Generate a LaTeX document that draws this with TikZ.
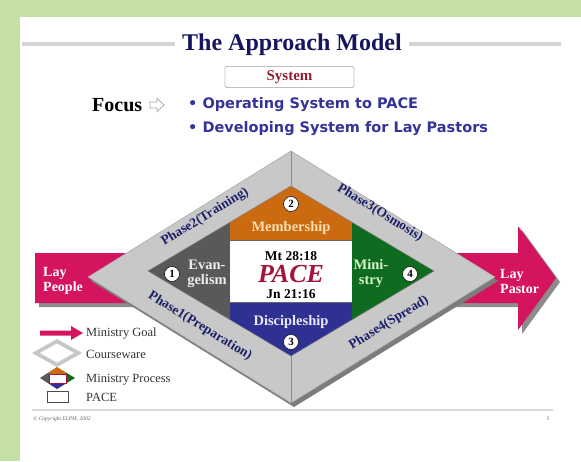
\documentclass[tikz,border=0pt]{standalone}
\usepackage{fontspec}
\setmainfont{Liberation Serif}
\newfontfamily\dejavu{DejaVu Sans}
\definecolor{frame}{HTML}{C5E0A5}
\definecolor{navy}{HTML}{16165E}
\definecolor{phasenavy}{HTML}{1C2068}
\definecolor{sysred}{HTML}{8E1F2E}
\definecolor{bulletblue}{HTML}{33339A}
\definecolor{goalred}{HTML}{D4145E}
\definecolor{band}{HTML}{C8C8C8}
\definecolor{bandshadow}{HTML}{7C7C7C}
\definecolor{evgray}{HTML}{595959}
\definecolor{memorange}{HTML}{CC6A12}
\definecolor{disblue}{HTML}{2E3192}
\definecolor{mingreen}{HTML}{0E6B1F}
\definecolor{pacered}{HTML}{A3143A}
\tikzset{
  ruleline/.style={line width=4pt, color=black!17},
  phase/.style={font=\bfseries\fontsize{13.5}{15}\selectfont, text=phasenavy, inner sep=0pt},
  numc/.style={circle, draw=black, line width=0.5pt, fill=white, minimum size=15pt, inner sep=0pt, font=\bfseries\fontsize{11}{11}\selectfont},
  lbl/.style={font=\fontsize{12.5}{14}\selectfont, text=black!80, anchor=west, inner sep=0pt},
  bul/.style={font=\dejavu\bfseries\fontsize{14.5}{16}\selectfont, text=bulletblue, anchor=west, inner sep=0pt},
  inner/.style={font=\bfseries\fontsize{14.5}{15}\selectfont, inner sep=0pt, align=center},
}
\begin{document}
\begin{tikzpicture}[x=1pt,y=-1pt]
% background and frame
\fill[white] (0,0) rectangle (581,461);
\fill[frame] (0,0) rectangle (581,17);
\fill[frame] (0,0) rectangle (20,461);
\useasboundingbox (0,0) rectangle (581,461);

% title
\node[font=\bfseries\fontsize{24}{28}\selectfont, text=navy, inner sep=0pt] (title) at (292,45) {The Approach Model};
\coordinate (tlA) at (22,44);
\coordinate (tlB) at (561,44);
\draw[ruleline] (tlA) -- ([xshift=-7pt]title.west |- tlA);
\draw[ruleline] ([xshift=7pt]title.east |- tlB) -- (tlB);

% system box
\node[draw=black!25, line width=0.8pt, rounded corners=1.5pt, fill=white, minimum width=129pt, minimum height=21pt, inner sep=0pt,
      font=\bfseries\fontsize{15}{16}\selectfont, text=sysred] (system) at (289.5,77) {System};

% focus
\node[font=\bfseries\fontsize{20}{22}\selectfont, anchor=west, inner sep=0pt] (focus) at (92,105) {Focus};
\draw[black!35, line width=0.8pt] (150,102) -- (157,102) -- (157,98.5) -- (164,105) -- (157,111.5) -- (157,108) -- (150,108) -- cycle;
\node[bul] (b1) at (188,105) {• Operating System to PACE};
\node[bul] (b2) at (188,129) {• Developing System for Lay Pastors};

% big arrow (ministry goal)
\fill[black!45] (39,257) -- (522,257) -- (522,230) -- (560,282) -- (522,334) -- (522,307) -- (39,307) -- cycle;
\fill[goalred] (35,253) -- (518,253) -- (518,226) -- (556,278) -- (518,330) -- (518,303) -- (35,303) -- cycle;
\node[font=\bfseries\fontsize{14}{15}\selectfont, text=white, align=left, anchor=west, inner sep=0pt] (lp) at (43,281) {Lay\\People};
\node[font=\bfseries\fontsize{14}{15}\selectfont, text=white, align=left, anchor=west, inner sep=0pt] (lpa) at (500,281) {Lay\\Pastor};

% courseware diamond
\coordinate (oT) at (291,151);
\coordinate (oL) at (88,277);
\coordinate (oR) at (495,277);
\coordinate (oB) at (291,403);
\fill[bandshadow] ([shift={(3,4)}]oT) -- ([shift={(3,4)}]oR) -- ([shift={(3,4)}]oB) -- ([shift={(3,4)}]oL) -- cycle;
\filldraw[fill=band, draw=black!35, line width=0.5pt] (oT) -- (oR) -- (oB) -- (oL) -- cycle;

% ministry process (inner)
\coordinate (iT) at (291,186);
\coordinate (iL) at (148,271);
\coordinate (iR) at (434,271);
\coordinate (iB) at (291,356);
\draw[black!45, line width=0.6pt] (oT) -- (iT);
\draw[black!45, line width=0.6pt] (iB) -- (oB);
\begin{scope}
\clip (iL) -- (iT) -- (iR) -- (iB) -- cycle;
\fill[evgray] (140,180) rectangle (230,360);
\fill[mingreen] (352,180) rectangle (440,360);
\fill[memorange] (230,180) rectangle (352,240);
\fill[white] (230,240) rectangle (352,302);
\fill[disblue] (230,302) rectangle (352,360);
\end{scope}
\draw[black!50, line width=0.5pt] (iL) -- (iT) -- (iR) -- (iB) -- cycle;
\draw[black!60, line width=0.6pt] (230,240) -- (352,240);
\draw[black!60, line width=0.6pt] (230,302) -- (352,302);

\node[numc] (n1) at (172,274) {1};
\node[numc] (n2) at (291,204) {2};
\node[numc] (n3) at (291,342) {3};
\node[numc] (n4) at (410,274) {4};

\node[inner, text=white!93!black] (evan) at (207,274) {Evan-\\gelism};
\node[inner, text={rgb,255:red,248;green,222;blue,176}] (mem) at (291,228) {Membership};
\node[font=\bfseries\fontsize{13.5}{14}\selectfont, inner sep=0pt] (mt) at (291,256) {Mt 28:18};
\node[font=\bfseries\itshape\fontsize{26}{28}\selectfont, text=pacered, inner sep=0pt] (pace) at (291,274) {PACE};
\node[font=\bfseries\fontsize{13.5}{14}\selectfont, inner sep=0pt] (jn) at (291,294) {Jn 21:16};
\node[inner, text={rgb,255:red,232;green,232;blue,246}] (dis) at (291,322) {Discipleship};
\node[inner, text={rgb,255:red,216;green,242;blue,200}] (min) at (371,274) {Mini-\\stry};

% phase labels
\node[phase, rotate=31.5] (p2) at (205,217) {Phase2(Training)};
\node[phase, rotate=-31.5] (p3) at (380,213) {Phase3(Osmosis)};
\node[phase, rotate=-31.5] (p1) at (200,326) {Phase1(Preparation)};
\node[phase, rotate=31.5] (p4) at (389,323) {Phase4(Spread)};

% legend
\fill[goalred] (40,330.5) -- (71,330.5) -- (71,326) -- (83,333) -- (71,340) -- (71,335.5) -- (40,335.5) -- cycle;
\node[lbl] (lg1) at (86,334) {Ministry Goal};
\fill[black!22] (32,353) -- (57,339) -- (82,353) -- (57,367) -- cycle;
\fill[white] (40,353) -- (57,343.5) -- (74,353) -- (57,362.5) -- cycle;
\node[lbl] (lg2) at (86,354) {Courseware};
\begin{scope}
\clip (40,378) -- (57,367) -- (75,378) -- (57,389) -- cycle;
\fill[evgray] (38,365) rectangle (49,391);
\fill[mingreen] (66,365) rectangle (77,391);
\fill[memorange] (49,365) rectangle (66,374);
\fill[white] (49,374) rectangle (66,383);
\fill[disblue] (49,383) rectangle (66,391);
\end{scope}
\draw[pacered, line width=0.5pt] (49,374) rectangle (66,383);
\node[lbl] (lg3) at (86,380) {Ministry Process};
\draw[black!70, line width=0.6pt, fill=white] (47,391) rectangle (68,402);
\node[lbl] (lg4) at (86,397) {PACE};

% footer
\draw[line width=2.5pt, color=black!15] (32,410) -- (553,410);
\node[font=\itshape\fontsize{5.5}{6}\selectfont, text=black!60, anchor=west, inner sep=0pt] (copy) at (33,419) {© Copyright ELPM, 2002};
\node[font=\fontsize{6}{6}\selectfont, text=black!60, inner sep=0pt] (pg) at (548,419) {1};
\end{tikzpicture}
\end{document}
